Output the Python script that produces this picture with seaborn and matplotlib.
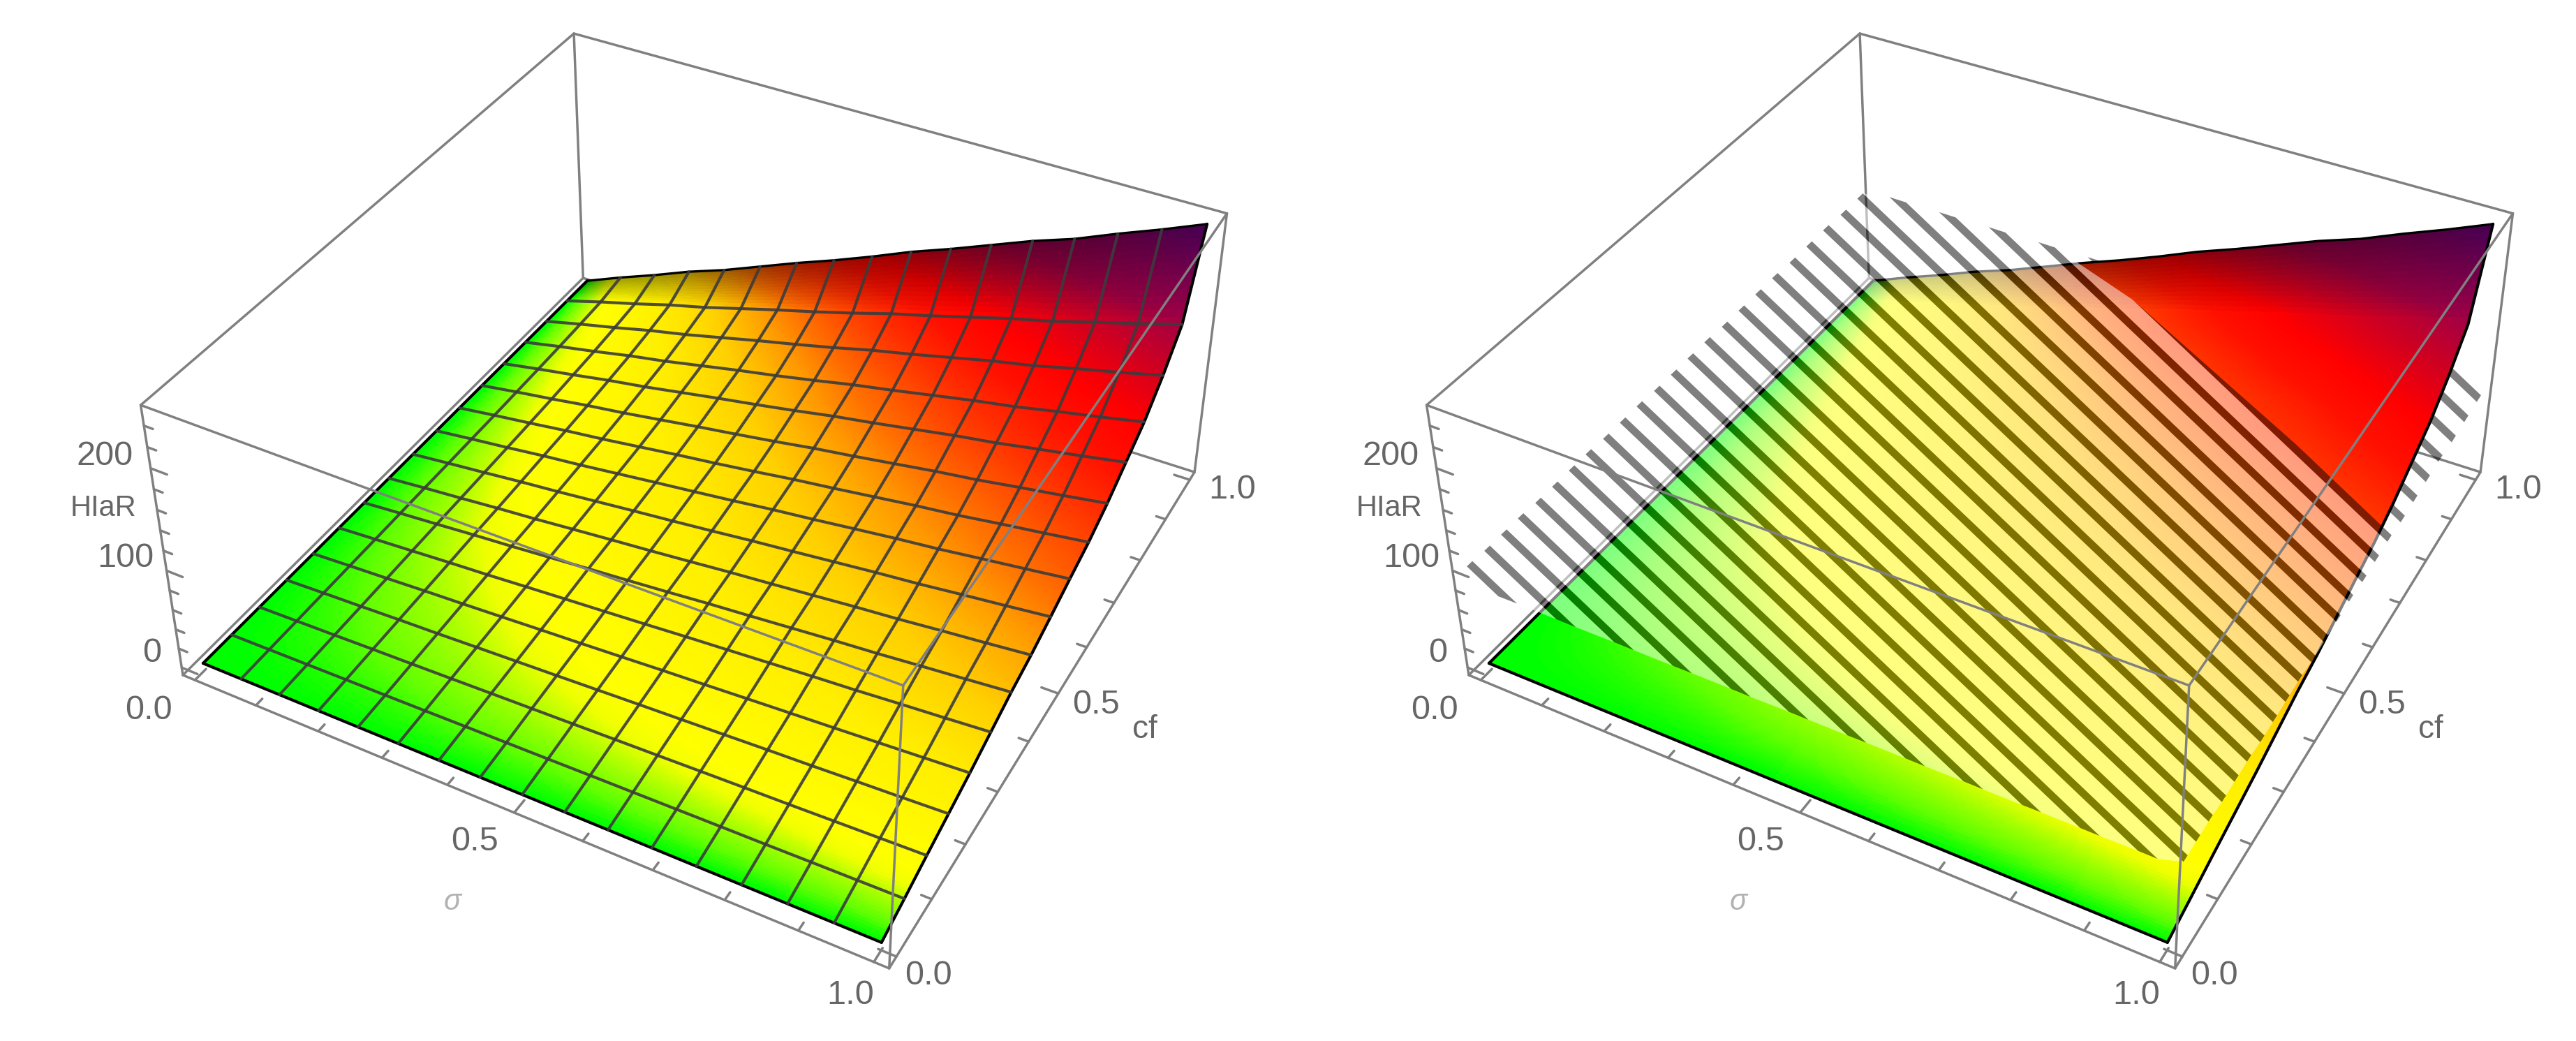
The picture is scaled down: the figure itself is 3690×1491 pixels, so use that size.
import numpy as np
import matplotlib
matplotlib.use("Agg")
import matplotlib.pyplot as plt
import seaborn as sns
from matplotlib.colors import LinearSegmentedColormap
from mpl_toolkits.mplot3d import Axes3D
from mpl_toolkits.mplot3d.art3d import Poly3DCollection

# ---------------- data ----------------
sigma = [0, 1/16, 2/16, 3/16, 4/16, 5/16, 6/16, 7/16, 8/16, 9/16, 10/16, 11/16, 12/16, 13/16, 14/16, 15/16, 1]
cf = list(sigma)
hiar_rows = [
 [0,0,0,0,0,0,0,0,0,0,0,0,0,0,0,0,0],
 [0,.5,1,1.5,1.9,2.4,3,3.4,3.9,4.5,5,5.5,6,6.4,7,7.5,8],
 [0,1,2,3.1,4,5,6.1,7.1,8.1,9.2,10.2,11.3,12.3,13.2,14.3,15.4,16.5],
 [0,1.6,3,4.6,5.9,7.5,9,10.5,12.1,13.7,15.2,16.7,18.3,19.6,21.3,22.8,24.5],
 [0,2.1,4,6.1,7.9,9.9,12,13.9,16,18.2,20.1,22.2,24.2,26.1,28.2,30.3,32.5],
 [0,2.6,5.1,7.7,10,12.7,15.3,17.8,20.4,23.2,25.7,28.3,31,33.3,36.1,38.7,41.5],
 [0,3.2,6.2,9.4,12.2,15.4,18.6,21.6,24.8,28.3,31.3,34.5,37.7,40.5,43.9,47.1,50.5],
 [0,3.7,7.1,10.7,13.9,17.6,21.2,24.6,28.3,32.2,35.6,39.2,42.9,46.1,50,53.6,57.5],
 [0,4.2,8.2,12.4,16.1,20.3,24.5,28.5,32.7,37.2,41.2,45.4,49.6,53.3,57.8,62,66.5],
 [0,4.8,9.3,14.2,18.4,23.2,28,32.6,37.4,42.5,47,51.9,56.7,60.9,66,70.9,76],
 [0,5.4,10.5,15.9,20.6,26,31.4,36.4,41.8,47.6,52.6,58,63.4,68.1,73.9,79.3,85],
 [0,6.2,11.9,18.1,23.5,29.6,35.8,41.6,47.7,54.3,60,66.2,72.4,77.8,84.3,90.5,97],
 [0,7.1,13.8,20.9,27.1,34.2,41.3,48,55.1,62.7,69.3,76.4,83.6,89.8,97.3,104.4,112],
 [0,8.1,15.6,23.7,30.7,38.8,46.9,54.4,62.5,71.1,78.6,86.7,94.7,101.8,110.4,118.4,127],
 [0,9.5,18.3,27.8,36.1,45.5,55,63.9,73.3,83.4,92.2,101.7,111.2,119.4,129.5,138.9,149],
 [0,11.2,21.6,32.8,42.6,53.8,64.9,75.4,86.6,98.5,108.9,120.1,131.3,141.1,152.9,164.1,176],
 [0,16,31,47,61,77,93,108,124,141,156,172,188,202,219,235,252],
]
tick_sigma_major = [0.0, 0.5, 1.0]
tick_cf_major = [0.0, 0.5, 1.0]
tick_z_major = [0, 100, 200]
axis_labels = ["σ", "cf", "HIaR"]
sheet_z = 92            # height of the striped sheet of the right panel
z_levels = [0, 3, 7, 10, 13, 30, 45, 60, 70, 80, 92, 108, 125, 149, 176, 215, 252]
z_colors = ["#00ff00", "#60ff00", "#b0ff00", "#f0ff00", "#ffff00", "#ffee00", "#ffd000", "#ff9900", "#ff7000",
            "#ff5000", "#ff3000", "#ff1000", "#ff0000", "#d00020", "#a00045", "#8a0060", "#70008a"]

# ---------------- style ----------------
sns.set_theme(style="white")
plt.rcParams["font.family"] = ["Liberation Sans", "DejaVu Sans"]
GREY = "#808080"
TXT = "#666666"
W, H = 3691, 1491
fig = plt.figure(figsize=(W/100, H/100), dpi=100, facecolor="white")

cmap = LinearSegmentedColormap.from_list("hiar", list(zip(np.array(z_levels)/252, sns.color_palette(z_colors))), N=1024)

S0, S1, C0, C1, Z0, Z1 = -0.02, 1.02, -0.02, 1.02, -8, 259
box_keys = [(S0,C0,Z1),(S0,C1,Z1),(S1,C1,Z1),(S1,C0,Z1),(S0,C0,Z0),(S0,C1,Z0),(S1,C1,Z0),(S1,C0,Z0)]
# pixel anchors of the eight box corners of the left panel; the right panel is the same shifted
anchors_l = [(202,578),(822,48),(1757,306),(1294,984),(262,968),(835,399),(1712,675),(1273,1386)]
dx_r = 1842

def fit_camera(ax, anchors):
    A = []
    for (s,c,z),(x,y) in zip(box_keys, anchors):
        X = [s,c,z/100,1]
        A.append(X+[0,0,0,0]+[-x*v for v in X])
        A.append([0,0,0,0]+X+[-y*v for v in X])
    P = np.linalg.svd(np.array(A))[2][-1].reshape(3,4)
    P[:,2] /= 100
    if P[2] @ np.array([.5,.5,100,1]) < 0:
        P = -P
    ax.apply_aspect()
    T = ax.transData.inverted()
    o, ex, ey = T.transform([(0,H),(1,H),(0,H-1)])   # image px -> axes data
    R = np.zeros((4,4))
    R[0] = o[0]*P[2] + (ex[0]-o[0])*P[0]
    R[1] = o[1]*P[2] + (ey[1]-o[1])*P[1]
    R[2] = -P[2] + 1e-3*abs(P[2][3])*np.array([1.0,-1.0,0.002,0.0])
    R[3] = P[2]
    ax.get_proj = lambda: R
    return P

Z = np.array(hiar_rows, float)
sv, cv = np.array(sigma), np.array(cf)
N = len(sv)
n = 14
si = np.linspace(0,1,(N-1)*n+1); ci = np.linspace(0,1,(N-1)*n+1)
Zc = np.array([np.interp(si, sv, r) for r in Z])       # shading between mesh nodes
Zf = np.array([np.interp(ci, cv, Zc[:,k]) for k in range(Zc.shape[1])]).T
SS, CC = np.meshgrid(si, ci)

def surf_at(s, c):
    i = np.clip(np.round(np.asarray(s)*(N-1)*n).astype(int), 0, (N-1)*n)
    j = np.clip(np.round(np.asarray(c)*(N-1)*n).astype(int), 0, (N-1)*n)
    return Zf[j, i]

def colors_for():
    rgba = cmap(np.clip(Zf/252,0,1))
    dark = np.interp(CC, [0,15/16,1], [1,1,.6])
    rgba[...,:3] *= dark[...,None]
    return rgba

def box_lines(ax):
    e = lambda a,b,zo: ax.plot(*[ [box_keys[a][i],box_keys[b][i]] for i in range(3)], color=GREY, lw=2.5, zorder=zo)
    for a,b in [(5,6),(4,5),(0,1),(1,2),(1,5)]:
        e(a,b,1)
    for a,b in [(4,7),(7,6),(4,0),(6,2),(7,3),(0,3),(2,3)]:
        e(a,b,6)
    tk = lambda p,q: ax.plot([p[0],q[0]],[p[1],q[1]],[p[2],q[2]],color=GREY,lw=2.5,zorder=6)
    for v in np.arange(0,1.01,.1):
        L = abs(v*2-round(v*2))<.01
        d = .024 if L else .014
        tk((v,C0,Z0),(v,C0+d,Z0))
        tk((S1,v,Z0),(S1-d,v,Z0))
    for v in np.arange(0,241,20):
        d = .026 if v%100==0 else .014
        tk((S0,C0,v),(S0+d,C0,v))

def labels(dx):
    fs = 35
    oa = fig.add_axes([0,0,1,1], facecolor="none"); oa.set_xlim(0,W); oa.set_ylim(H,0); oa.axis("off")
    t = lambda x,y,s,**k: oa.text(x+dx,y,s,color=TXT,ha="center",va="center",fontsize=k.pop("fs",fs),**k)
    for v,(x,y) in zip(tick_sigma_major,[(213,1018),(680,1205),(1218,1425)]):
        t(x,y,f"{v:.1f}")
    for v,(x,y) in zip(tick_cf_major,[(1330,1398),(1570,1010),(1765,702)]):
        t(x,y,f"{v:.1f}")
    for v,(x,y) in zip(tick_z_major,[(218,936),(180,800),(150,653)]):
        t(x,y,str(v))
    t(648,1292,axis_labels[0],fs=30,style="italic",alpha=.5)
    t(1640,1045,axis_labels[1],fs=33)
    t(148,728,axis_labels[2],fs=30)

def panel(left, anchors, mesh):
    ax = fig.add_axes([left/W, (H-1645)/H, 1800/W, 1800/H], projection="3d", computed_zorder=False)
    ax.set_axis_off(); ax.patch.set_alpha(0)
    ax.set_xlim(S0,S1); ax.set_ylim(C0,C1); ax.set_zlim(Z0,Z1)
    P = fit_camera(ax, anchors)
    box_lines(ax)
    ax.plot_surface(SS, CC, Zf, facecolors=colors_for(), rstride=1, cstride=1, shade=False, linewidth=0, antialiased=False, zorder=3)
    ax.plot([0,1],[0,0],[Z[0,0],Z[0,-1]],color="black",lw=3,zorder=4)
    ax.plot(np.ones(N),cv,Z[:,-1],color="black",lw=3,zorder=4)
    ax.plot(sv,np.ones(N),Z[-1],color="black",lw=2.4,zorder=4)
    ax.plot(np.zeros(N),cv,Z[:,0],color="black",lw=3,zorder=4)
    if mesh:
        for j in range(1,N-1):
            ax.plot(sv,np.full(N,cv[j]),Z[j],color="#3c3c3c",lw=3,alpha=.9,zorder=5)
            ax.plot(np.full(N,sv[j]),cv,Z[:,j],color="#3c3c3c",lw=3,alpha=.9,zorder=5)
    return ax, P

axL, _ = panel(100, anchors_l, True)
labels(0)

axR, PR = panel(1950, [(x+dx_r,y) for x,y in anchors_l], False)

# striped sheet: level plane inside the box, with stripes even in the image;
# the part under the surface goes behind it, the part over it in front
m = 0.95            # image slope of the stripes
v_period = 46.0     # vertical distance of the stripes, image px
black_frac = 0.33
Hm = np.c_[PR[:,0], PR[:,1], PR[:,2]*sheet_z + PR[:,3]]
Hinv = np.linalg.inv(Hm)
x_grid = np.linspace(1900, 3700, 1800)

def to_plane(c):
    y = c + m*x_grid
    q = Hinv @ np.vstack([x_grid, y, np.ones_like(x_grid)])
    return q[0]/q[2], q[1]/q[2]

def band_polys(c1, c2, above):
    s1, f1 = to_plane(c1); s2, f2 = to_plane(c2)
    inside = lambda s,f: (s>=S0)&(s<=S1)&(f>=C0)&(f<=C1)
    h1 = surf_at(np.clip(s1,0,1),np.clip(f1,0,1)) <= sheet_z
    h2 = surf_at(np.clip(s2,0,1),np.clip(f2,0,1)) <= sheet_z
    if not above:
        h1, h2 = ~h1, ~h2
    a = inside(s1,f1)&h1; b = inside(s2,f2)&h2
    if a.sum()<1 or b.sum()<1:
        return []
    return [[(s,f,sheet_z) for s,f in zip(s1[a],f1[a])] + [(s,f,sheet_z) for s,f in zip(s2[b][::-1],f2[b][::-1])]]

c = -3500.0
while c < 200:
    c_mid = c + v_period*black_frac
    for above, zo in [(True,4.6),(False,2)]:
        polys = band_polys(c, c_mid, above)
        if polys:
            axR.add_collection3d(Poly3DCollection(polys, facecolor=(0,0,0,.5), edgecolor="none", zorder=zo))
    polys = band_polys(c_mid, c+v_period, True)
    if polys:
        axR.add_collection3d(Poly3DCollection(polys, facecolor=(1,1,1,.5), edgecolor="none", zorder=4.6))
    c += v_period
labels(dx_r)

fig.savefig("out.png", dpi=100)
